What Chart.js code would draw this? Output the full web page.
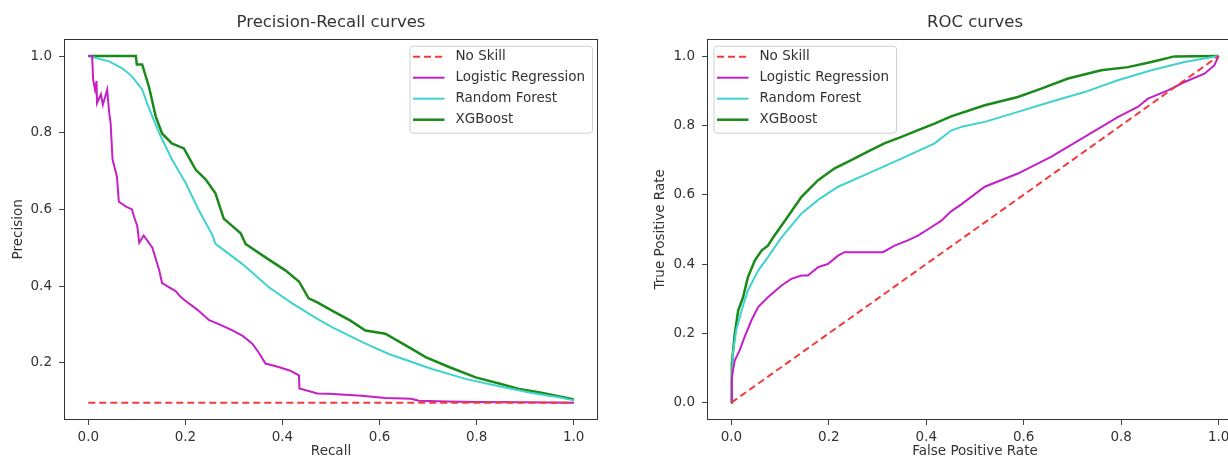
<!DOCTYPE html>
<html lang="en">
<head>
<meta charset="UTF-8">
<title>Precision-Recall and ROC curves</title>
<script src="https://cdn.jsdelivr.net/npm/chart.js@4.4.0/dist/chart.umd.min.js"></script>
<style>
  html, body { margin: 0; padding: 0; background: #fff; overflow: hidden; }
  body { width: 1228px; height: 462px; position: relative; }
  #pr { position: absolute; left: 0; top: 0; }
  #roc { position: absolute; left: 640px; top: 0; }
</style>
</head>
<body>
<canvas id="pr" width="600" height="462"></canvas>
<canvas id="roc" width="605" height="462"></canvas>
<script>
// ---- model names, colours and tick positions ----
const seriesNames = ['No Skill', 'Logistic Regression', 'Random Forest', 'XGBoost'];
const seriesColors = ['#f03c3c', '#c520c5', '#3fd3cf', '#1a8a1a'];
const unitTicks = [0, 0.2, 0.4, 0.6, 0.8, 1.0];
const prPrecisionTicks = [0.2, 0.4, 0.6, 0.8, 1.0];

// ---- precision-recall curves ----
const noSkillRecall = [0, 1];
const noSkillPrecision = [0.096, 0.096];

const lrRecall = [0, 0.008, 0.010, 0.014, 0.017, 0.018, 0.026, 0.030, 0.039, 0.043, 0.046, 0.050, 0.059,
  0.063, 0.077, 0.090, 0.094, 0.101, 0.105, 0.114, 0.121, 0.132, 0.146, 0.152, 0.165, 0.180, 0.190, 0.200,
  0.225, 0.249, 0.270, 0.296, 0.318, 0.338, 0.352, 0.365, 0.392, 0.415, 0.434, 0.435, 0.472, 0.495, 0.563,
  0.612, 0.665, 0.681, 0.740, 0.800, 0.900, 1.0];
const lrPrecision = [1.0, 1.0, 0.938, 0.912, 0.935, 0.877, 0.900, 0.873, 0.912, 0.853, 0.826, 0.730, 0.686,
  0.620, 0.608, 0.600, 0.582, 0.556, 0.513, 0.532, 0.520, 0.500, 0.442, 0.408, 0.398, 0.387, 0.372, 0.362,
  0.338, 0.311, 0.300, 0.285, 0.270, 0.250, 0.225, 0.198, 0.189, 0.180, 0.167, 0.133, 0.120, 0.119, 0.114,
  0.108, 0.106, 0.101, 0.099, 0.098, 0.097, 0.096];

const rfRecall = [0, 0.043, 0.070, 0.090, 0.111, 0.121, 0.132, 0.146, 0.173, 0.201, 0.228, 0.255, 0.262,
  0.317, 0.372, 0.420, 0.471, 0.502, 0.571, 0.619, 0.708, 0.777, 0.846, 0.914, 0.969, 1.0];
const rfPrecision = [1.0, 0.986, 0.968, 0.947, 0.913, 0.877, 0.842, 0.799, 0.729, 0.668, 0.597, 0.535, 0.510,
  0.458, 0.397, 0.355, 0.315, 0.293, 0.250, 0.223, 0.184, 0.158, 0.139, 0.121, 0.110, 0.102];

const xgbRecall = [0, 0.098, 0.100, 0.111, 0.125, 0.139, 0.152, 0.172, 0.197, 0.221, 0.242, 0.262, 0.279,
  0.314, 0.324, 0.365, 0.406, 0.434, 0.454, 0.471, 0.502, 0.540, 0.571, 0.612, 0.660, 0.695, 0.743, 0.798,
  0.846, 0.887, 0.928, 0.996, 1.0];
const xgbPrecision = [1.0, 1.0, 0.978, 0.978, 0.920, 0.842, 0.798, 0.772, 0.759, 0.704, 0.678, 0.642, 0.576,
  0.538, 0.510, 0.475, 0.441, 0.412, 0.368, 0.358, 0.336, 0.310, 0.284, 0.276, 0.241, 0.215, 0.189, 0.162,
  0.146, 0.132, 0.123, 0.106, 0.104];

// ---- ROC curves ----
const noSkillFpr = [0, 1];
const noSkillTpr = [0, 1];

const lrFpr = [0, 0.001, 0.007, 0.017, 0.027, 0.041, 0.055, 0.075, 0.103, 0.123, 0.144, 0.157, 0.178, 0.198,
  0.219, 0.232, 0.311, 0.335, 0.362, 0.383, 0.410, 0.431, 0.451, 0.472, 0.520, 0.588, 0.656, 0.725, 0.793,
  0.834, 0.855, 0.896, 0.930, 0.971, 0.991, 1.0];
const lrTpr = [0, 0.074, 0.122, 0.151, 0.189, 0.237, 0.276, 0.304, 0.338, 0.357, 0.367, 0.367, 0.391, 0.400,
  0.424, 0.434, 0.434, 0.453, 0.468, 0.482, 0.506, 0.525, 0.552, 0.572, 0.623, 0.661, 0.709, 0.767, 0.824,
  0.853, 0.877, 0.901, 0.925, 0.949, 0.973, 1.0];

const rfFpr = [0, 0.003, 0.010, 0.021, 0.034, 0.055, 0.075, 0.103, 0.144, 0.178, 0.219, 0.280, 0.349, 0.417,
  0.451, 0.475, 0.520, 0.588, 0.656, 0.725, 0.793, 0.862, 0.930, 1.0];
const rfTpr = [0, 0.142, 0.209, 0.266, 0.324, 0.381, 0.420, 0.477, 0.546, 0.585, 0.623, 0.661, 0.704, 0.748,
  0.785, 0.797, 0.810, 0.839, 0.868, 0.896, 0.930, 0.959, 0.983, 1.0];

const xgbFpr = [0, 0.001, 0.007, 0.014, 0.024, 0.034, 0.048, 0.062, 0.075, 0.086, 0.103, 0.116, 0.144, 0.178,
  0.212, 0.246, 0.280, 0.314, 0.349, 0.383, 0.417, 0.451, 0.520, 0.588, 0.636, 0.691, 0.759, 0.814, 0.862,
  0.909, 1.0];
const xgbTpr = [0, 0.113, 0.199, 0.266, 0.304, 0.362, 0.410, 0.439, 0.453, 0.477, 0.511, 0.537, 0.594, 0.642,
  0.676, 0.700, 0.724, 0.748, 0.767, 0.786, 0.805, 0.826, 0.858, 0.882, 0.906, 0.935, 0.959, 0.968, 0.983,
  0.999, 1.0];

Chart.defaults.font.family = "'DejaVu Sans', sans-serif";
Chart.defaults.color = '#333';

const FONT = 13.5;

function points(xs, ys) {
  return xs.map((x, i) => ({ x: x, y: ys[i] }));
}

// axis limits padded by 5% of the data span on each side
function padded(lo, hi) {
  const m = (hi - lo) * 0.05;
  return [lo - m, hi + m];
}

function makeDatasets(curves) {
  return curves.map((c, i) => ({
    label: seriesNames[i],
    data: points(c[0], c[1]),
    borderColor: seriesColors[i],
    borderWidth: i === 3 ? 2.5 : 2,
    borderDash: i === 0 ? [7, 4] : [],
    pointRadius: 0,
    tension: 0,
    fill: false
  }));
}

function makeAxis(text, ticks, range, size, vertical, titlePad) {
  return {
    type: 'linear',
    min: range[0],
    max: range[1],
    afterBuildTicks: s => { s.ticks = ticks.map(v => ({ value: v })); },
    afterFit: s => { if (vertical) s.width = size; else s.height = size; },
    grid: { drawOnChartArea: false, drawTicks: true, tickLength: 5, color: '#444' },
    border: { display: false },
    ticks: {
      padding: vertical ? 7 : 4,
      autoSkip: false,
      maxRotation: 0,
      font: { size: FONT },
      color: '#333',
      callback: v => Number(v).toFixed(1)
    },
    title: { display: true, text: text, font: { size: FONT }, color: '#333', padding: titlePad }
  };
}

// box around the plot area and the in-axes legend
const frameLegend = {
  id: 'frameLegend',
  afterDraw(chart, args, opts) {
    const { ctx, chartArea: a } = chart;
    ctx.save();
    ctx.strokeStyle = '#333';
    ctx.lineWidth = 1;
    ctx.strokeRect(Math.round(a.left) + 0.5, Math.round(a.top) + 0.5,
      Math.round(a.width) - 1, Math.round(a.height) - 1);

    ctx.font = FONT + "px 'DejaVu Sans', sans-serif";
    const sets = chart.data.datasets;
    const textW = Math.max(...sets.map(d => ctx.measureText(d.label).width));
    const w = 46 + textW + 7;
    const h = 87;
    const x0 = opts.corner === 'right' ? a.right - 6 - w : a.left + 6.5;
    const y0 = a.top + 7;

    ctx.beginPath();
    ctx.roundRect(x0 + 0.5, y0 + 0.5, w, h, 3);
    ctx.fillStyle = 'rgba(255,255,255,0.85)';
    ctx.fill();
    ctx.strokeStyle = '#d0d0d0';
    ctx.stroke();

    sets.forEach((d, i) => {
      const y = y0 + 11 + i * 21;
      ctx.beginPath();
      ctx.setLineDash(d.borderDash);
      ctx.strokeStyle = d.borderColor;
      ctx.lineWidth = d.borderWidth;
      ctx.moveTo(x0 + 3.5, y);
      ctx.lineTo(x0 + 35, y);
      ctx.stroke();
      ctx.setLineDash([]);
      ctx.fillStyle = '#333';
      ctx.textBaseline = 'middle';
      ctx.textAlign = 'left';
      ctx.fillText(d.label, x0 + 46, y);
    });
    ctx.restore();
  }
};

function makeChart(id, title, curves, xLabel, yLabel, yTicks, yRange, yAxisWidth, yTitlePad, corner) {
  return new Chart(document.getElementById(id), {
    type: 'line',
    data: { datasets: makeDatasets(curves) },
    options: {
      responsive: false,
      animation: false,
      events: [],
      layout: { padding: { left: 0, right: 2, top: 0, bottom: 0 } },
      scales: {
        x: makeAxis(xLabel, unitTicks, padded(0, 1), 42, false, { top: 0, bottom: 2 }),
        y: makeAxis(yLabel, yTicks, yRange, yAxisWidth, true, { top: yTitlePad, bottom: 0 })
      },
      plugins: {
        legend: { display: false },
        tooltip: { enabled: false },
        title: {
          display: true,
          fullSize: false,
          text: title,
          color: '#333',
          font: { size: 16.5, weight: 'normal' },
          padding: { top: 12.5, bottom: 6.4 }
        },
        frameLegend: { corner: corner }
      }
    },
    plugins: [frameLegend]
  });
}

const prCurves = [
  [noSkillRecall, noSkillPrecision],
  [lrRecall, lrPrecision],
  [rfRecall, rfPrecision],
  [xgbRecall, xgbPrecision]
];
const rocCurves = [
  [noSkillFpr, noSkillTpr],
  [lrFpr, lrTpr],
  [rfFpr, rfTpr],
  [xgbFpr, xgbTpr]
];

const allPrecision = [].concat(noSkillPrecision, lrPrecision, rfPrecision, xgbPrecision);

makeChart('pr', 'Precision-Recall curves', prCurves, 'Recall', 'Precision', prPrecisionTicks,
  padded(Math.min(...allPrecision), Math.max(...allPrecision)), 64, 10, 'right');
makeChart('roc', 'ROC curves', rocCurves, 'False Positive Rate', 'True Positive Rate', unitTicks,
  padded(0, 1), 67, 12, 'left');
</script>
</body>
</html>
